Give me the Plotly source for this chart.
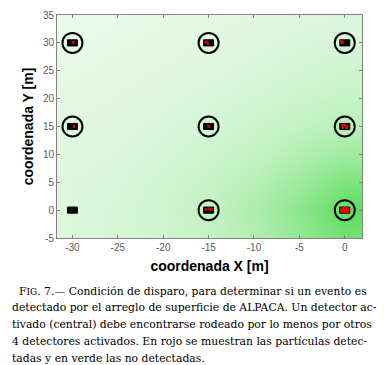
import plotly.graph_objects as go

# Detector positions (m)
det_x = [-30, -30, -30, -15, -15, -15, 0, 0, 0]
det_y = [0, 15, 30, 0, 15, 30, 0, 15, 30]
# activated detectors (circled)
act_x = [-30, -30, -15, -15, -15, 0, 0, 0]
act_y = [15, 30, 0, 15, 30, 0, 15, 30]
DET_HALF = 0.55  # detector half-size (m)

# Estimated density (fraction of area covered) of non-detected particles (green)
dens_x = [-35, -30, -25, -20, -15, -10, -5, 0, 5]
dens_y = [-10, -5, 0, 5, 10, 15, 20, 25, 30, 35, 40]
dens_z = [
    [0.13, 0.14, 0.16, 0.19, 0.23, 0.30, 0.42, 0.55, 0.55],
    [0.13, 0.14, 0.16, 0.19, 0.23, 0.30, 0.42, 0.55, 0.55],
    [0.13, 0.14, 0.16, 0.19, 0.24, 0.32, 0.45, 0.62, 0.62],
    [0.13, 0.14, 0.15, 0.18, 0.22, 0.28, 0.38, 0.50, 0.50],
    [0.12, 0.13, 0.14, 0.16, 0.19, 0.23, 0.30, 0.37, 0.37],
    [0.11, 0.12, 0.13, 0.15, 0.17, 0.20, 0.24, 0.28, 0.28],
    [0.10, 0.11, 0.12, 0.13, 0.15, 0.17, 0.20, 0.22, 0.22],
    [0.09, 0.10, 0.11, 0.12, 0.13, 0.15, 0.17, 0.19, 0.19],
    [0.08, 0.09, 0.10, 0.11, 0.12, 0.13, 0.15, 0.16, 0.16],
    [0.07, 0.08, 0.09, 0.10, 0.11, 0.12, 0.13, 0.14, 0.14],
    [0.07, 0.07, 0.08, 0.09, 0.10, 0.11, 0.12, 0.13, 0.13],
]

# Detected particles (red)
red_x = [-0.35, -0.1, 0.15, 0.35, -0.35, -0.1, 0.15, 0.35, -0.35, -0.1, 0.15, 0.35,
         -0.3, 0.0, 0.25, -0.2, 0.2,
         -0.4, -0.25,
         -15.3, -15.1,
         -15.0,
         -15.3, -14.9, -14.7,
         -29.9,
         -29.8]
red_y = [0.3, 0.3, 0.3, 0.3, 0.0, 0.0, 0.0, 0.0, -0.3, -0.3, -0.3, -0.3,
         15.25, 15.3, 15.1, 14.8, 14.75,
         30.25, 30.05,
         30.2, 29.9,
         15.0,
         0.1, 0.25, 0.1,
         30.1,
         15.0]

x_ticks = [-30, -25, -20, -15, -10, -5, 0]
y_ticks = [-5, 0, 5, 10, 15, 20, 25, 30, 35]

fig = go.Figure()

fig.add_trace(go.Heatmap(
    x=dens_x, y=dens_y, z=dens_z, zmin=0, zmax=1, zsmooth="best",
    colorscale=[[0, "rgb(255,255,255)"], [1, "rgb(0,200,0)"]],
    showscale=False, hoverinfo="skip"))

# detector squares
sq_x, sq_y = [], []
for cx, cy in zip(det_x, det_y):
    sq_x += [cx - DET_HALF, cx + DET_HALF, cx + DET_HALF, cx - DET_HALF, cx - DET_HALF, None]
    sq_y += [cy - DET_HALF, cy - DET_HALF, cy + DET_HALF, cy + DET_HALF, cy - DET_HALF, None]
fig.add_trace(go.Scatter(x=sq_x, y=sq_y, mode="lines", fill="toself",
                         fillcolor="black", line=dict(color="black", width=1),
                         hoverinfo="skip"))

fig.add_trace(go.Scatter(x=red_x, y=red_y, mode="markers",
                         marker=dict(symbol="square", size=2.5, color="rgb(240,0,0)",
                                     line=dict(width=0))))

fig.add_trace(go.Scatter(x=act_x, y=act_y, mode="markers",
                         marker=dict(symbol="circle-open", size=20, color="black",
                                     line=dict(width=2, color="black"))))

axis_common = dict(showgrid=False, zeroline=False, showline=True, mirror="ticks",
                   linecolor="rgb(130,130,130)", linewidth=1,
                   ticks="inside", ticklen=3, tickcolor="rgb(130,130,130)",
                   tickfont=dict(family="Liberation Sans", size=10, color="rgb(90,90,90)"))

fig.update_xaxes(range=[-31.7, 1.9], tickvals=x_ticks,
                 ticktext=[str(v) for v in x_ticks], **axis_common,
                 title=dict(text="<b>coordenada X [m]</b>", standoff=9,
                            font=dict(family="Liberation Sans", size=14, color="black")))
fig.update_yaxes(range=[-5, 35], tickvals=y_ticks,
                 ticktext=[str(v) for v in y_ticks], **axis_common,
                 title=dict(text="<b>coordenada Y [m]</b>", standoff=5,
                            font=dict(family="Liberation Sans", size=14, color="black")))

caption = [
    ("F<span style='font-size:9px'>IG</span>. 7.— Condición de disparo, para determinar si un evento es", 17),
    ("detectado por el arreglo de superficie de ALPACA. Un detector ac-", 10),
    ("tivado (central) debe encontrarse rodeado por lo menos por otros", 10),
    ("4 detectores activados. En rojo se muestran las partículas detec-", 10),
    ("tadas y en verde las no detectadas.", 10),
]
for i, (txt, x0) in enumerate(caption):
    fig.add_annotation(text=txt, xref="paper", yref="paper", x=0, y=0,
                       xshift=x0 - 57, yshift=-(291 + 16.8 * i - 238),
                       xanchor="left", yanchor="middle", showarrow=False,
                       font=dict(family="DejaVu Serif", size=10.8, color="black"))

fig.update_layout(width=384, height=365, margin=dict(l=57, r=22, t=9, b=127),
                  paper_bgcolor="white", plot_bgcolor="white", showlegend=False)

fig.write_html("out.html", config={"displayModeBar": False},
               post_script="document.body.style.margin='0';document.body.style.overflow='hidden';")
